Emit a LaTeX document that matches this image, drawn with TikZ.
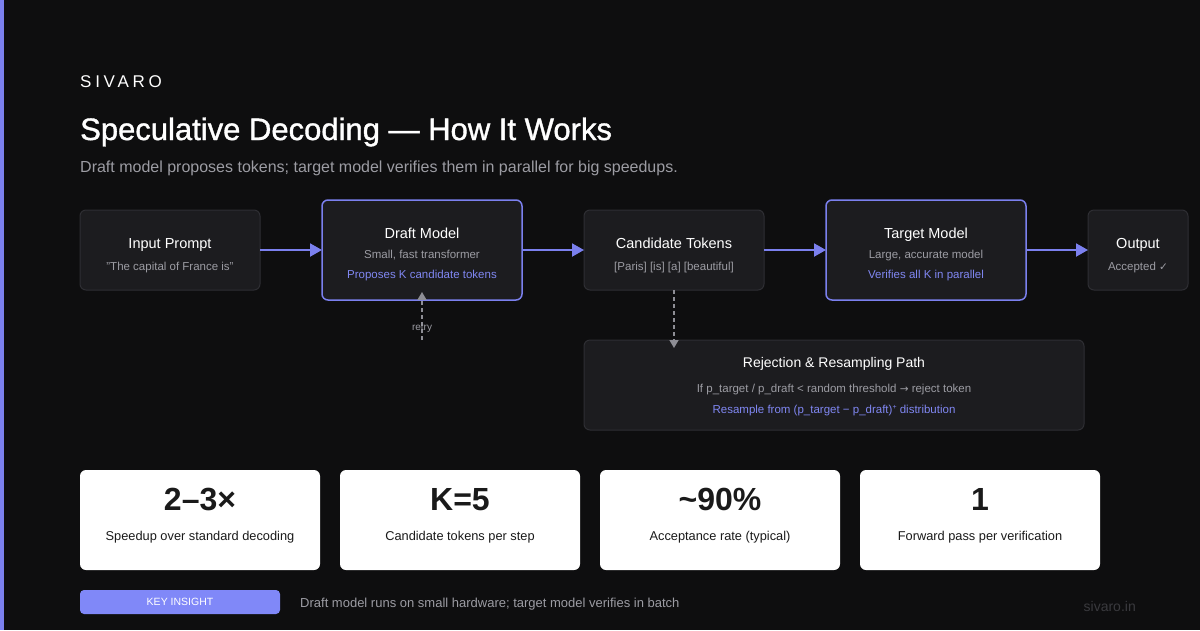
\documentclass[tikz,border=0pt]{standalone}
\usepackage{fontspec}
\setmainfont{Liberation Sans}
\newfontfamily\headfont[FakeBold=1.2]{Liberation Sans}
\newfontfamily\logofont[LetterSpace=22]{Liberation Sans}
\newfontfamily\symfont{DejaVu Sans}
\usepackage{tikz}
\usetikzlibrary{positioning,arrows.meta}

\definecolor{bgdark}{HTML}{0E0E0F}
\definecolor{accent}{HTML}{7B80EE}
\definecolor{pillfill}{HTML}{8088F8}
\definecolor{boxfill}{HTML}{1C1C1F}
\definecolor{boxline}{HTML}{2E2E33}
\definecolor{softgray}{HTML}{9C9CA3}
\definecolor{dashgray}{HTML}{8E8E95}
\definecolor{lilac}{HTML}{8087F2}
\definecolor{ink}{HTML}{1A1A1A}
\definecolor{faint}{HTML}{3A3A3E}

\newcommand{\setsz}[1]{\fontsize{#1}{#1}\selectfont}

\begin{document}
\begin{tikzpicture}[x=1pt, y=-1pt, node distance=62pt,
    >={Triangle[length=12pt,width=13pt]},
    box/.style={draw=boxline, fill=boxfill, line width=1pt, rounded corners=6pt,
      minimum width=180pt, minimum height=80pt, inner sep=0pt, outer sep=0pt},
    hot/.style={box, draw=accent, line width=1.5pt, minimum width=200pt, minimum height=100pt},
    card/.style={fill=white, rounded corners=6pt, minimum width=240pt, minimum height=100pt,
      inner sep=0pt, outer sep=0pt},
    ttl/.style={anchor=base, inner sep=0pt, text=white, font=\setsz{14.5}},
    sub/.style={anchor=base, inner sep=0pt, text=softgray, font=\setsz{11.5}},
    hint/.style={anchor=base, inner sep=0pt, text=lilac, font=\setsz{11.5}},
    flow/.style={->, color=accent, line width=2pt},
    probe/.style={->, >={Triangle[length=8pt,width=9pt]}, color=dashgray, line width=1.5pt,
      dash pattern=on 4pt off 3pt, shorten >=-8pt}]

  % backdrop
  \fill[bgdark] (0,0) rectangle (1200,630);
  \fill[accent] (0,0) rectangle (4,630);

  % header
  \node[anchor=base west, inner sep=0pt, text=white, font=\logofont\setsz{17}] (logo) at (80,87) {SIVARO};
  \node[anchor=base west, inner sep=0pt, text=white, font=\headfont\setsz{31}] (title) at (80,140)
    {Speculative Decoding — How It Works};
  \node[anchor=base west, inner sep=0pt, text=softgray, font=\setsz{16}] (lead) at (80,172)
    {Draft model proposes tokens; target model verifies them in parallel for big speedups.};

  % pipeline
  \node[box] (in) at (170,250) {};
  \node[hot] (draft) [right=of in] {};
  \node[box] (cand) [right=of draft] {};
  \node[hot] (target) [right=of cand] {};
  \node[box, minimum width=100pt] (out) [right=of target] {};
  \node[box, minimum width=500pt, minimum height=90pt] (rej) at (834,385) {};

  \node[ttl] (inT) at ([yshift=1.5pt]in.center) {Input Prompt};
  \node[sub] (inS) at ([yshift=-20pt]in.center) {"The capital of France is"};

  \node[ttl] (draftT) at ([yshift=11.7pt]draft.center) {Draft Model};
  \node[sub] (draftS) at ([yshift=-8.3pt]draft.center) {Small, fast transformer};
  \node[hint] (draftH) at ([yshift=-28.3pt]draft.center) {Proposes K candidate tokens};

  \node[ttl] (candT) at ([yshift=1.5pt]cand.center) {Candidate Tokens};
  \node[sub] (candS) at ([yshift=-20pt]cand.center) {[Paris] [is] [a] [beautiful]};

  \node[ttl] (targetT) at ([yshift=11.7pt]target.center) {Target Model};
  \node[sub] (targetS) at ([yshift=-8.3pt]target.center) {Large, accurate model};
  \node[hint] (targetH) at ([yshift=-28.3pt]target.center) {Verifies all K in parallel};

  \node[ttl] (outT) at ([yshift=1.5pt]out.center) {Output};
  \node[sub] (outS) at ([yshift=-20pt]out.center) {Accepted {\symfont\setsz{10.5}✓}};

  \node[ttl, font=\setsz{14}] (rejT) at ([yshift=17.3pt]rej.center) {Rejection \& Resampling Path};
  \node[sub] (rejS) at ([yshift=-7.3pt]rej.center)
    {If p\_target / p\_draft < random threshold {\symfont\setsz{10.5}→} reject token};
  \node[hint] (rejH) at ([yshift=-28.3pt]rej.center)
    {Resample from (p\_target − p\_draft)\raisebox{3.5pt}{\setsz{7}+} distribution};

  \path[flow]
    (in) edge (draft)
    (draft) edge (cand)
    (cand) edge (target)
    (target) edge (out);

  \coordinate (retryfrom) at ([yshift=-40pt]draft.south);
  \path[probe]
    (cand.south) edge (cand.south |- rej.north)
    (retryfrom) edge node[pos=0.3, inner sep=0pt, text=softgray, font=\setsz{10}] (retryL) {retry} (draft.south);

  % stat cards
  \foreach \val/\lbl [count=\i] in {2–3×/Speedup over standard decoding,
      K=5/Candidate tokens per step,
      \textasciitilde90\%/Acceptance rate (typical),
      1/Forward pass per verification} {
    \node[card] (card\i) at ({200+260*(\i-1)},520) {};
    \node[anchor=base, inner sep=0pt, text=ink, font=\bfseries\setsz{32}] (cardN\i) at ([yshift=10pt]card\i.center) {\val};
    \node[anchor=base, inner sep=0pt, text=ink, font=\setsz{12.8}] (cardL\i) at ([yshift=-20pt]card\i.center) {\lbl};
  }

  % footer
  \node[fill=pillfill, rounded corners=4pt, minimum width=200pt, minimum height=24pt, inner sep=0pt,
    text=white, font=\setsz{10.5}] (key) at (180,602) {KEY INSIGHT};
  \node[anchor=base west, inner sep=0pt, text=softgray, font=\setsz{13}] (note) at (300,607)
    {Draft model runs on small hardware; target model verifies in batch};
  \node[anchor=base east, inner sep=0pt, text=faint, font=\setsz{14}] (site) at (1136,611) {sivaro.in};
\end{tikzpicture}
\end{document}
